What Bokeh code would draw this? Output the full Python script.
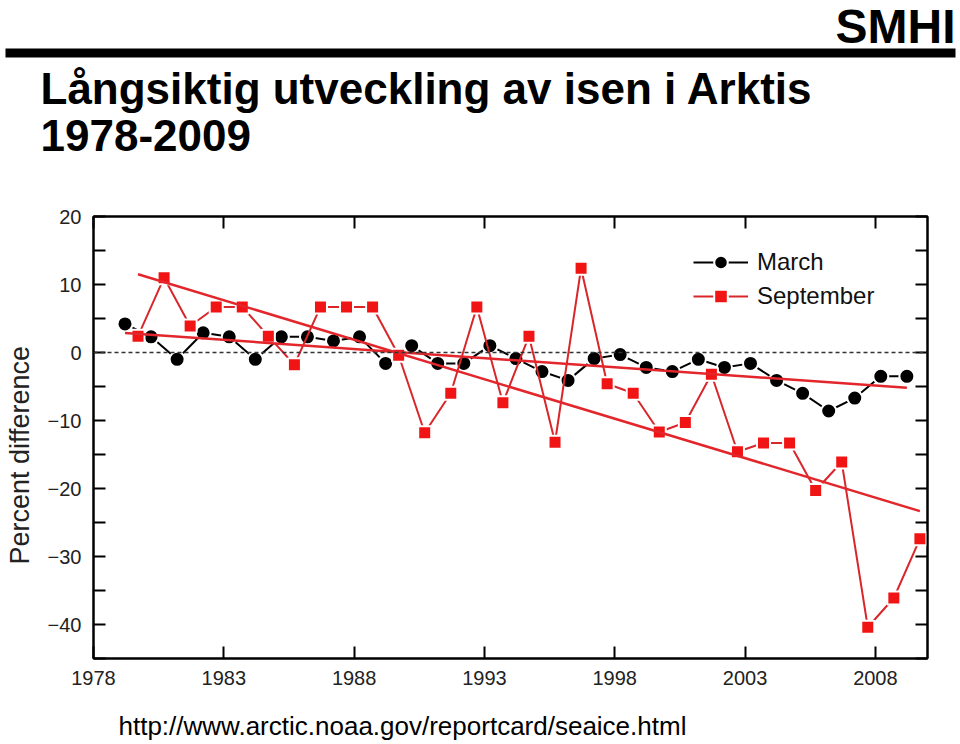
import numpy as np
from bokeh.plotting import figure
from bokeh.layouts import column, row
from bokeh.models import (Range1d, LinearAxis, FixedTicker, Span, Legend, LegendItem)
from bokeh.core.properties import value
from bokeh.embed import file_html
from bokeh.resources import INLINE

# ---- data ----
years = list(range(1979, 2010))
march = [4.2, 2.3, -1.0, 2.9, 2.3, -1.0, 2.3, 2.3, 1.7, 2.3,
         -1.6, 1.0, -1.6, -1.6, 1.0, -0.9, -2.8, -4.1, -0.9, -0.3,
         -2.2, -2.8, -1.0, -2.2, -1.6, -4.1, -6.0, -8.6, -6.7, -3.5, -3.5]
september = [2.4, 11.0, 3.9, 6.7, 6.7, 2.4, -1.8, 6.7, 6.7, 6.7,
             -0.4, -11.8, -6.0, 6.7, -7.4, 2.4, -13.2, 12.4, -4.6, -6.0,
             -11.7, -10.3, -3.2, -14.6, -13.3, -13.3, -20.3, -16.1, -40.4, -36.1, -27.4]
x_ticks = [1978, 1983, 1988, 1993, 1998, 2003, 2008]
y_ticks = [-40, -30, -20, -10, 0, 10, 20]
y_minor = [-45, -35, -25, -15, -5, 5, 15]

TITLE_1 = "Långsiktig utveckling av isen i Arktis"
TITLE_2 = "1978-2009"
LOGO = "SMHI"
Y_LABEL = "Percent difference"
SOURCE = "http://www.arctic.noaa.gov/reportcard/seaice.html"

FONT = "Liberation Sans"

# mid-month positions
march_x = np.array(years) + 2.5 / 12
sept_x = np.array(years) + 8.5 / 12

# linear trends
m_fit = np.polyfit(march_x, march, 1)
s_fit = np.polyfit(sept_x, september, 1)
m_tx = np.array([march_x[0], march_x[-1]])
s_tx = np.array([sept_x[0], sept_x[-1]])


def blank(width, height, flip=True):
    f = figure(width=width, height=height, output_backend="svg", toolbar_location=None,
               x_range=Range1d(0, width),
               y_range=Range1d(height, 0) if flip else Range1d(0, height),
               x_axis_type=None, y_axis_type=None, min_border=0)
    f.outline_line_color = None
    f.background_fill_color = "white"
    f.border_fill_color = "white"
    return f

# ---- header ----
head = blank(960, 200)
head.quad(left=[5], right=[955], top=[48], bottom=[57], fill_color="black", line_color=None)
head.text(x=[955], y=[26], text=[LOGO], text_font=value(FONT),
          text_font_size="48px", text_font_style="bold", text_align="right",
          text_baseline="alphabetic", text_color="black")
head.text(x=[40, 40], y=[88, 135], text=[TITLE_1, TITLE_2], text_font=value(FONT),
          text_font_size="44px", text_font_style="bold", text_align="left",
          text_baseline="alphabetic", text_color="black")

# ---- y label strip ----
ylab = blank(40, 500, flip=False)
ylab.text(x=[19], y=[230], text=[Y_LABEL], text_font=value(FONT), text_font_size="27px",
          text_align="center", text_baseline="alphabetic", angle=np.pi / 2,
          text_color="#222222")

# ---- main chart ----
p = figure(width=920, height=500, output_backend="svg", toolbar_location=None,
           x_range=Range1d(1978, 2010), y_range=Range1d(-45, 20),
           x_axis_type=None, y_axis_type=None,
           min_border_left=53, min_border_right=33,
           min_border_top=16, min_border_bottom=42)
p.background_fill_color = "white"
p.border_fill_color = "white"
p.outline_line_color = "black"
p.outline_line_width = 2


def style_axis(ax, labels=True):
    ax.axis_line_width = 2
    ax.axis_line_color = "black"
    ax.major_tick_in = 12
    ax.major_tick_out = 0
    ax.major_tick_line_width = 2
    ax.minor_tick_in = 12
    ax.minor_tick_out = 0
    ax.minor_tick_line_width = 2
    if labels:
        ax.major_label_text_font = FONT
        ax.major_label_text_font_size = "20px"
        ax.major_label_text_color = "#222222"
    else:
        ax.major_label_text_font_size = "0px"
        ax.major_label_text_color = None


xb = LinearAxis(ticker=FixedTicker(ticks=x_ticks))
style_axis(xb)
xb.major_label_standoff = 12
xt = LinearAxis(ticker=FixedTicker(ticks=x_ticks))
style_axis(xt, labels=False)
yl = LinearAxis(ticker=FixedTicker(ticks=y_ticks, minor_ticks=y_minor))
style_axis(yl)
yl.major_label_standoff = 12
yr = LinearAxis(ticker=FixedTicker(ticks=y_ticks, minor_ticks=y_minor))
style_axis(yr, labels=False)
p.add_layout(xb, "below")
p.add_layout(xt, "above")
p.add_layout(yl, "left")
p.add_layout(yr, "right")

p.add_layout(Span(location=0, dimension="width", line_color="#333333",
                  line_dash="4 3", line_width=1.5))

RED_LINE = "#d8262a"
RED_MARK = "#f01414"

ml = p.line(march_x, march, line_color="black", line_width=2)
ms = p.scatter(march_x, march, marker="circle", size=15, fill_color="black",
               line_color="white", line_width=2)
sl = p.line(sept_x, september, line_color=RED_LINE, line_width=2)
ss = p.scatter(sept_x, september, marker="square", size=13, fill_color=RED_MARK,
               line_color="white", line_width=2)

p.line(m_tx, np.polyval(m_fit, m_tx), line_color="#e3262b", line_width=2.5)
p.line(s_tx, np.polyval(s_fit, s_tx), line_color="#e3262b", line_width=2.5)

legend = Legend(items=[LegendItem(label="March", renderers=[ml, ms]),
                       LegendItem(label="September", renderers=[sl, ss])],
                location=(600, 345), glyph_width=55, glyph_height=34,
                label_height=34, spacing=0, padding=0, margin=0,
                label_standoff=9, label_text_font=FONT,
                label_text_font_size="24px", label_text_color="#111111",
                border_line_color=None, background_fill_color=None)
p.add_layout(legend, "center")

# ---- footer ----
foot = blank(960, 44)
foot.text(x=[118], y=[25], text=[SOURCE], text_font=value(FONT), text_font_size="26px",
          text_align="left", text_baseline="alphabetic", text_color="black")

layout = column(head, row(ylab, p, spacing=0), foot, spacing=0)

open("out.html", "w").write(file_html(layout, INLINE))
